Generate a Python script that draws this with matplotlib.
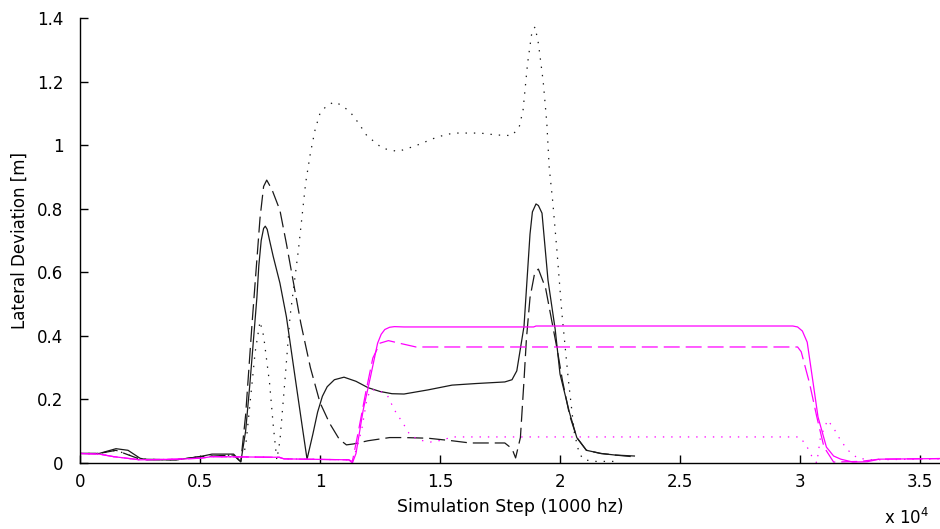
import matplotlib
matplotlib.use("Agg")
import matplotlib.pyplot as plt

plt.rcParams["font.family"] = ["DejaVu Sans"]
plt.rcParams["lines.scale_dashes"] = False

# black solid
bs_x = [0, 800, 1500, 2000, 2500, 2800, 4000, 4500, 5000, 5500, 6400, 6600, 6700, 6900, 7080, 7370,
        7450, 7550, 7650, 7720, 7800, 7900, 8050, 8330, 8600, 9000, 9250, 9460, 9700, 9900, 10100,
        10300, 10600, 11000, 11500, 12000, 12500, 13000, 13500, 14500, 15500, 16500, 17700, 18000,
        18200, 18500, 18750, 18850, 19000, 19100, 19250, 19500, 19800, 20000, 20400, 20700, 21100,
        21700, 22300, 23100]
bs_y = [0.03, 0.03, 0.045, 0.04, 0.015, 0.01, 0.01, 0.015, 0.02, 0.028, 0.028, 0.012, 0.003, 0.1, 0.25, 0.52,
        0.62, 0.7, 0.738, 0.745, 0.735, 0.7, 0.65, 0.566, 0.46, 0.25, 0.12, 0.012, 0.09, 0.16, 0.21,
        0.24, 0.262, 0.27, 0.257, 0.237, 0.225, 0.218, 0.217, 0.23, 0.245, 0.25, 0.255, 0.262,
        0.29, 0.43, 0.72, 0.79, 0.815, 0.81, 0.786, 0.575, 0.42, 0.28, 0.157, 0.08, 0.04,
        0.03, 0.025, 0.022]

# black dashed
bd_x = [0, 800, 1500, 2500, 4000, 5000, 6400, 6600, 6700, 6900, 7170, 7500, 7650, 7780, 8000, 8330,
        8600, 8900, 9200, 9600, 10000, 10400, 10800, 11100, 11400, 12000, 12900, 13500, 14500, 15500,
        16250, 17500, 17700, 18000, 18150, 18350, 18500, 18600, 18750, 18950, 19100, 19400, 19600,
        19900, 20100, 20400, 20700, 21100, 21700, 22300, 23000]
bd_y = [0.03, 0.03, 0.04, 0.012, 0.01, 0.02, 0.025, 0.01, 0.005, 0.15, 0.44, 0.77, 0.87, 0.89, 0.86, 0.795,
        0.69, 0.565, 0.44, 0.3, 0.19, 0.125, 0.075, 0.057, 0.06, 0.07, 0.08, 0.08, 0.078, 0.07,
        0.063, 0.063, 0.063, 0.045, 0.016, 0.08, 0.26, 0.39, 0.52, 0.6, 0.61, 0.55, 0.47,
        0.35, 0.26, 0.15, 0.08, 0.04, 0.03, 0.025, 0.02]

# black dotted
bt_x = [0, 800, 1500, 2500, 4000, 5000, 6400, 6700, 6900, 7100, 7300, 7500, 7650, 7900, 8050, 8200,
        8330, 8550, 8750, 9100, 9400, 9600, 9800, 10000, 10300, 10620, 10900, 11250, 11600, 11950,
        12600, 13250, 13950, 14900, 15550, 16670, 17350, 18000, 18300, 18460, 18650, 18830, 18960,
        19100, 19300, 19450, 19550, 19700, 19870, 20080, 20350, 20600, 20800, 21000, 21500, 22500]
bt_y = [0.03, 0.03, 0.04, 0.012, 0.01, 0.02, 0.025, 0.01, 0.05, 0.2, 0.35, 0.445, 0.4, 0.25, 0.12, 0.01,
        0.07, 0.27, 0.46, 0.67, 0.88, 0.975, 1.05, 1.1, 1.126, 1.136, 1.125, 1.105, 1.07, 1.03,
        0.99, 0.98, 0.997, 1.026, 1.038, 1.038, 1.032, 1.03, 1.057, 1.11, 1.258, 1.356, 1.372,
        1.32, 1.2, 1.07, 0.93, 0.82, 0.67, 0.47, 0.26, 0.094, 0.03, 0.01, 0.005, 0.005]

# magenta solid
ms_x = [0, 800, 1400, 2500, 4000, 5000, 5500, 8300, 8500, 11200, 11350, 11500, 11800, 12100, 12400,
        12550, 12700, 12900, 13100, 13500, 18900, 19000, 29700, 29900, 30100, 30300, 30550, 30750,
        31100, 31400, 31700, 32200, 32800, 33300, 35900]
ms_y = [0.03, 0.028, 0.02, 0.01, 0.012, 0.015, 0.02, 0.018, 0.013, 0.01, 0.0, 0.03, 0.167, 0.27, 0.377,
        0.405, 0.42, 0.427, 0.429, 0.428, 0.428, 0.431, 0.431, 0.428, 0.415, 0.38, 0.25, 0.145,
        0.05, 0.022, 0.012, 0.003, 0.004, 0.012, 0.014]

# magenta dashed
md_x = [0, 800, 1400, 2500, 4000, 5000, 5500, 8300, 8500, 11200, 11350, 11600, 11900, 12200, 12500,
        12850, 13300, 14000, 29900, 30050, 30400, 30700, 31000, 31400, 32500, 33300, 35900]
md_y = [0.03, 0.028, 0.02, 0.01, 0.012, 0.015, 0.02, 0.018, 0.013, 0.01, 0.005, 0.1, 0.22, 0.33, 0.377,
        0.385, 0.377, 0.365, 0.365, 0.35, 0.25, 0.145, 0.05, 0.003, 0.005, 0.012, 0.014]

# magenta dotted
mt_x = [0, 800, 1400, 2500, 4000, 5000, 5500, 8300, 8500, 11200, 11350, 11600, 11750, 11950, 12100,
        12400, 12800, 13100, 13550, 13750, 14150, 14600, 15100, 15500, 30000, 30300, 30500, 30700,
        30850, 31150, 31400, 31700, 32000, 32400, 33000, 35900]
mt_y = [0.03, 0.028, 0.02, 0.01, 0.012, 0.015, 0.02, 0.018, 0.013, 0.01, 0.005, 0.064, 0.11, 0.2, 0.23,
        0.23, 0.214, 0.167, 0.114, 0.088, 0.072, 0.066, 0.072, 0.082, 0.082, 0.05, 0.02, 0.0,
        0.08, 0.135, 0.11, 0.07, 0.04, 0.015, 0.01, 0.013]

x_ticks = [0, 5000, 10000, 15000, 20000, 25000, 30000, 35000]
x_labels = ["0", "0.5", "1", "1.5", "2", "2.5", "3", "3.5"]
y_ticks = [0, 0.2, 0.4, 0.6, 0.8, 1.0, 1.2, 1.4]
y_labels = ["0", "0.2", "0.4", "0.6", "0.8", "1", "1.2", "1.4"]

fig = plt.figure(figsize=(9.4, 5.29), dpi=100)
ax = fig.add_axes([80 / 940, 66 / 529, 860 / 940, 445 / 529])

dash = (0, (11.5, 4.3))
dot = (0, (1, 5))
lw = 0.9
blk = "#1a1a1a"
mag = "#ff00ff"

ax.plot(bs_x, bs_y, color=blk, lw=lw, ls="-")
ax.plot(bd_x, bd_y, color=blk, lw=lw, ls=dash)
ax.plot(bt_x, bt_y, color=blk, lw=lw, ls=dot)
ax.plot(ms_x, ms_y, color=mag, lw=lw, ls="-")
ax.plot(md_x, md_y, color=mag, lw=lw, ls=dash)
ax.plot(mt_x, mt_y, color=mag, lw=lw, ls=dot)

ax.set_xlim(0, 35833)
ax.set_ylim(0, 1.4)
ax.set_xticks(x_ticks)
ax.set_xticklabels(x_labels)
ax.set_yticks(y_ticks)
ax.set_yticklabels(y_labels)
ax.tick_params(direction="in", length=6, width=1, labelsize=12, colors="black")
ax.tick_params(axis="y", pad=12)
ax.tick_params(axis="x", pad=7)
ax.spines["top"].set_visible(False)
ax.spines["right"].set_visible(False)
ax.spines["left"].set_linewidth(1)
ax.spines["bottom"].set_linewidth(1)

ax.set_xlabel("Simulation Step (1000 hz)", fontsize=12.5, labelpad=5)
ax.set_ylabel("Lateral Deviation [m]", fontsize=12, labelpad=6)
fig.text(884 / 940, 1 - 518 / 529, r"x 10$^{4}$", fontsize=12, va="center", ha="left")

fig.savefig("out.png", dpi=100)
